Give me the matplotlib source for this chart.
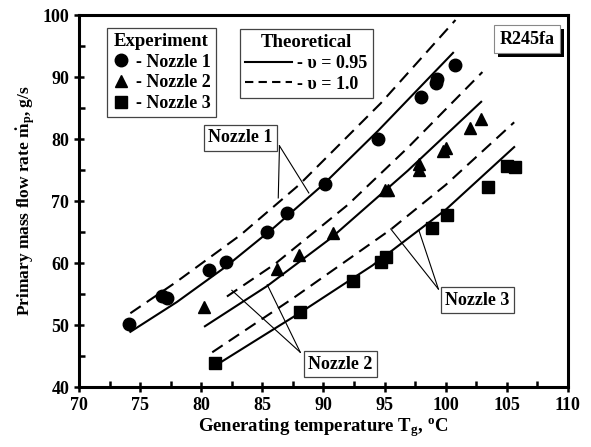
import matplotlib
matplotlib.use('Agg')
import matplotlib.pyplot as plt
from matplotlib.lines import Line2D
from matplotlib.ticker import MultipleLocator
import matplotlib.patheffects as pe

plt.rcParams['font.family'] = ['Liberation Serif', 'DejaVu Serif']
plt.rcParams['font.weight'] = 'bold'
plt.rcParams['mathtext.fontset'] = 'custom'
plt.rcParams['mathtext.rm'] = 'Liberation Serif:bold'
plt.rcParams['mathtext.it'] = 'Liberation Serif:bold'
plt.rcParams['mathtext.bf'] = 'Liberation Serif:bold'

# ── experimental points ──────────────────────────────────────────────────
n1_x = [74.1, 76.8, 77.2, 80.6, 82.0, 85.4, 87.0, 90.1, 94.5, 98.0, 99.2, 99.3, 100.8]
n1_y = [50.2, 54.6, 54.3, 58.8, 60.2, 65.0, 68.1, 72.7, 80.0, 86.8, 89.0, 89.7, 91.9]

n2_x = [80.2, 86.2, 88.0, 90.8, 95.0, 95.3, 97.8, 97.8, 99.8, 100.0, 102.0, 102.9]
n2_y = [52.9, 59.1, 61.3, 64.8, 71.8, 71.8, 75.0, 75.9, 78.0, 78.5, 81.7, 83.3]

n3_x = [81.1, 88.1, 92.4, 94.7, 95.1, 98.9, 100.1, 103.5, 105.0, 105.7]
n3_y = [43.9, 52.1, 57.1, 60.2, 61.0, 65.7, 67.7, 72.3, 75.6, 75.5]

# ── theoretical curves ───────────────────────────────────────────────────
n1_sol_x = [74.2, 78.0, 82.0, 86.0, 90.0, 94.5, 100.6]
n1_sol_y = [48.9, 53.7, 59.4, 65.8, 72.7, 81.4, 93.9]
n1_dash_x = [74.2, 78.0, 83.2, 88.0, 94.7, 100.8]
n1_dash_y = [51.9, 57.0, 64.5, 72.6, 85.8, 99.2]

n2_sol_x = [80.3, 85.4, 90.6, 96.9, 102.9]
n2_sol_y = [49.8, 56.3, 64.0, 74.9, 86.0]
n2_dash_x = [82.1, 86.0, 92.0, 96.9, 103.0]
n2_dash_y = [54.6, 59.8, 69.4, 78.6, 90.8]

n3_sol_x = [81.6, 88.1, 94.0, 100.0, 105.6]
n3_sol_y = [44.0, 52.0, 59.6, 68.6, 78.7]
n3_dash_x = [80.9, 87.5, 95.5, 100.0, 105.6]
n3_dash_y = [45.6, 54.3, 65.4, 72.6, 82.7]

fig = plt.figure(figsize=(5.91, 4.47), dpi=100)
ax = fig.add_axes([0.1337, 0.1342, 0.8273, 0.8322])

dash = (6, 3.5)
lw = 1.5
for xs, ys in [(n1_sol_x, n1_sol_y), (n2_sol_x, n2_sol_y), (n3_sol_x, n3_sol_y)]:
    ax.plot(xs, ys, color='black', lw=lw, zorder=2)
for xs, ys in [(n1_dash_x, n1_dash_y), (n2_dash_x, n2_dash_y), (n3_dash_x, n3_dash_y)]:
    ax.plot(xs, ys, color='black', lw=lw, dashes=dash, zorder=2)

ax.plot(n1_x, n1_y, 'o', color='black', ms=9, ls='none', zorder=3)
ax.plot(n2_x, n2_y, '^', color='black', ms=9, ls='none', zorder=3)
ax.plot(n3_x, n3_y, 's', color='black', ms=8.5, ls='none', zorder=3)

# ── callout labels ───────────────────────────────────────────────────────
box = dict(boxstyle='square,pad=0.25', fc='white', ec='#444444', lw=0.9)
ax.text(83.2, 80.2, 'Nozzle 1', ha='center', va='center', fontsize=13, bbox=box, zorder=5)
ax.text(91.4, 43.7, 'Nozzle 2', ha='center', va='center', fontsize=13, bbox=box, zorder=5)
ax.text(102.6, 54.0, 'Nozzle 3', ha='center', va='center', fontsize=13, bbox=box, zorder=5)

leaders = [((86.4, 78.9), (86.3, 70.5)), ((86.4, 78.9), (88.8, 71.3)),
           ((88.1, 45.6), (82.5, 55.6)), ((88.1, 45.6), (85.4, 56.5)),
           ((99.4, 55.8), (95.5, 65.5)), ((99.4, 55.8), (97.8, 65.3))]
for (x0, y0), (x1, y1) in leaders:
    ax.plot([x0, x1], [y0, y1], color='black', lw=0.8, zorder=4)

t = ax.text(0.972, 0.958, 'R245fa', transform=ax.transAxes, ha='right', va='top',
            fontsize=13, bbox=dict(boxstyle='square,pad=0.3', fc='white', ec='#888888', lw=0.8),
            zorder=6)
t.get_bbox_patch().set_path_effects([pe.SimplePatchShadow(offset=(3, -3), shadow_rgbFace='black', alpha=1),
                                     pe.Normal()])

# ── legends ──────────────────────────────────────────────────────────────
exp_handles = [Line2D([], [], marker='o', color='black', ls='none', ms=9),
               Line2D([], [], marker='^', color='black', ls='none', ms=9),
               Line2D([], [], marker='s', color='black', ls='none', ms=8.5)]
leg1 = ax.legend(exp_handles, ['- Nozzle 1', '- Nozzle 2', '- Nozzle 3'],
                 title='Experiment', loc='upper left', bbox_to_anchor=(0.038, 0.99),
                 frameon=True, fancybox=False, edgecolor='#444444', framealpha=1,
                 handlelength=1.0, handletextpad=0.3, borderpad=0.3, labelspacing=0.2,
                 prop={'size': 13, 'weight': 'bold'})
leg1.get_title().set_fontsize(13.5)
leg1.get_title().set_fontweight('bold')
leg1.get_frame().set_linewidth(0.9)
ax.add_artist(leg1)

th_handles = [Line2D([], [], color='black', lw=lw),
              Line2D([], [], color='black', lw=lw, dashes=(4, 2.5))]
leg2 = ax.legend(th_handles, ['- υ = 0.95', '- υ = 1.0'],
                 title='Theoretical', loc='upper left', bbox_to_anchor=(0.31, 0.987),
                 frameon=True, fancybox=False, edgecolor='#444444', framealpha=1,
                 handlelength=2.6, handletextpad=0.3, borderpad=0.3, labelspacing=0.2,
                 prop={'size': 13, 'weight': 'bold'})
leg2.get_title().set_fontsize(13.5)
leg2.get_title().set_fontweight('bold')
leg2.get_frame().set_linewidth(0.9)

# ── axes styling ─────────────────────────────────────────────────────────
ax.set_xlim(70, 110)
ax.set_ylim(40, 100)
ax.xaxis.set_major_locator(MultipleLocator(5))
ax.xaxis.set_minor_locator(MultipleLocator(2.5))
ax.yaxis.set_major_locator(MultipleLocator(10))
ax.yaxis.set_minor_locator(MultipleLocator(5))
ax.tick_params(which='major', direction='inout', length=7, width=1.8, labelsize=13)
ax.tick_params(which='minor', direction='in', length=4, width=1.8)
for lab in ax.get_xticklabels() + ax.get_yticklabels():
    lab.set_fontweight('bold')
for s in ax.spines.values():
    s.set_linewidth(2.2)

ax.set_xlabel(r'Generating temperature T$_\mathrm{g}$, $^\mathrm{o}$C', fontsize=13.5, fontweight='bold', labelpad=2)
ax.set_ylabel(r'Primary mass flow rate $\dot{\mathrm{m}}_\mathrm{p}$, g/s', fontsize=12.5, fontweight='bold', labelpad=4)

fig.savefig('out.png', dpi=100)
